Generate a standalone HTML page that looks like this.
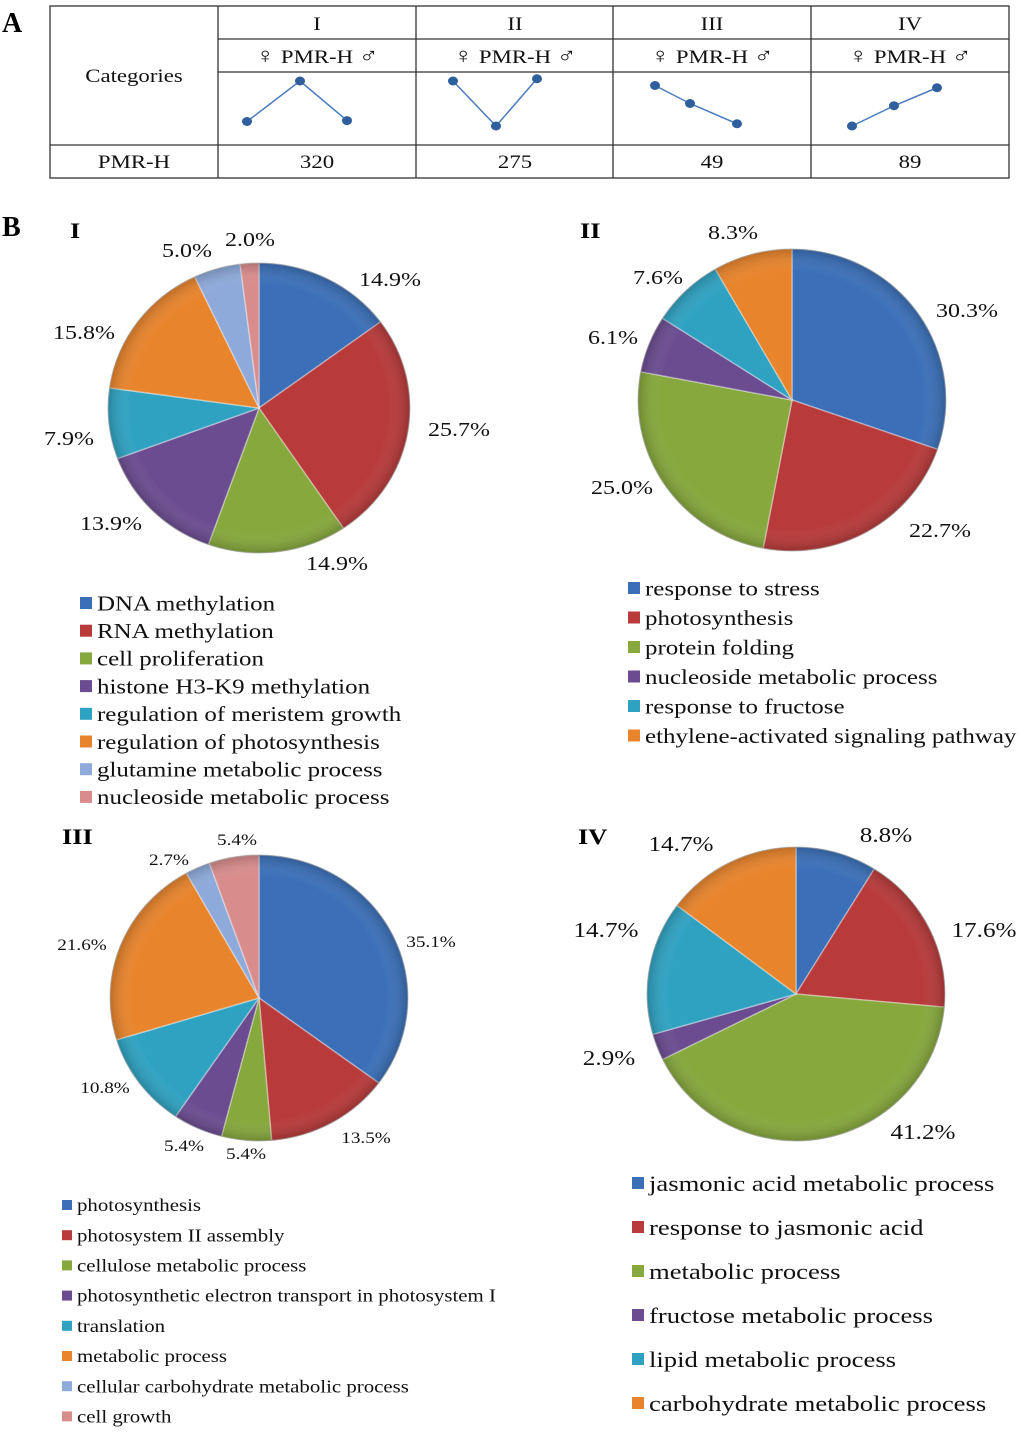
<!DOCTYPE html>
<html><head><meta charset="utf-8"><style>
html,body{margin:0;padding:0;background:#fff;}
svg{display:block;font-family:"Liberation Serif",serif;}
</style></head><body>
<svg id="fig" width="1024" height="1432" viewBox="0 0 1024 1432" xmlns="http://www.w3.org/2000/svg">
<defs>
<radialGradient id="shade" cx="50%" cy="50%" r="50%">
<stop offset="0.85" stop-color="#fff" stop-opacity="0"/>
<stop offset="1" stop-color="#000" stop-opacity="0.18"/>
</radialGradient>
</defs>
<text x="2" y="32" font-size="28" font-weight="bold">A</text>
<text x="2" y="236" font-size="28" font-weight="bold">B</text>
<g id="table" stroke="#333" stroke-width="1.3" fill="none">
<rect x="50" y="6" width="959" height="172"/>
<line x1="218" y1="39" x2="1009" y2="39"/>
<line x1="218" y1="72" x2="1009" y2="72"/>
<line x1="50" y1="145" x2="1009" y2="145"/>
<line x1="218" y1="6" x2="218" y2="178"/>
<line x1="416" y1="6" x2="416" y2="178"/>
<line x1="613" y1="6" x2="613" y2="178"/>
<line x1="811" y1="6" x2="811" y2="178"/>
</g>
<g font-size="19" text-anchor="middle" fill="#111">
<text transform="translate(134,82) scale(1.2,1)">Categories</text>
<text transform="translate(134,168) scale(1.2,1)">PMR-H</text>
<text transform="translate(317,30) scale(1.2,1)">I</text>
<text transform="translate(515,30) scale(1.2,1)">II</text>
<text transform="translate(712,30) scale(1.2,1)">III</text>
<text transform="translate(910,30) scale(1.2,1)">IV</text>
<text transform="translate(317,63) scale(1.2,1)"><tspan font-size="22">♀</tspan> PMR-H <tspan font-size="22">♂</tspan></text>
<text transform="translate(515,63) scale(1.2,1)"><tspan font-size="22">♀</tspan> PMR-H <tspan font-size="22">♂</tspan></text>
<text transform="translate(712,63) scale(1.2,1)"><tspan font-size="22">♀</tspan> PMR-H <tspan font-size="22">♂</tspan></text>
<text transform="translate(910,63) scale(1.2,1)"><tspan font-size="22">♀</tspan> PMR-H <tspan font-size="22">♂</tspan></text>
<text transform="translate(317,168) scale(1.2,1)">320</text>
<text transform="translate(515,168) scale(1.2,1)">275</text>
<text transform="translate(712,168) scale(1.2,1)">49</text>
<text transform="translate(910,168) scale(1.2,1)">89</text>
</g>
<g id="patterns"></g>
<g id="pies"></g>
</svg>
<script>
const NS="http://www.w3.org/2000/svg";
// Pattern data (relative expression levels: female, hybrid, male), 0..1
const patternI=[0.1,1.0,0.12];
const patternII=[1.0,0.0,1.05];
const patternIII=[0.9,0.5,0.05];
const patternIV=[0.0,0.45,0.85];

const pieIValues=[14.9,25.7,14.9,13.9,7.9,15.8,5.0,2.0];
const pieILabels=["14.9%","25.7%","14.9%","13.9%","7.9%","15.8%","5.0%","2.0%"];
const pieICats=["DNA methylation","RNA methylation","cell proliferation","histone H3-K9 methylation","regulation of meristem growth","regulation of photosynthesis","glutamine metabolic process","nucleoside metabolic process"];
const pieIIValues=[30.3,22.7,25.0,6.1,7.6,8.3];
const pieIILabels=["30.3%","22.7%","25.0%","6.1%","7.6%","8.3%"];
const pieIICats=["response to stress","photosynthesis","protein folding","nucleoside metabolic process","response to fructose","ethylene-activated signaling pathway"];
const pieIIIValues=[35.1,13.5,5.4,5.4,10.8,21.6,2.7,5.4];
const pieIIILabels=["35.1%","13.5%","5.4%","5.4%","10.8%","21.6%","2.7%","5.4%"];
const pieIIICats=["photosynthesis","photosystem II assembly","cellulose metabolic process","photosynthetic electron transport in photosystem I","translation","metabolic process","cellular carbohydrate metabolic process","cell growth"];
const pieIVValues=[8.8,17.6,41.2,2.9,14.7,14.7];
const pieIVLabels=["8.8%","17.6%","41.2%","2.9%","14.7%","14.7%"];
const pieIVCats=["jasmonic acid metabolic process","response to jasmonic acid","metabolic process","fructose metabolic process","lipid metabolic process","carbohydrate metabolic process"];

const COLORS=["#3b70b8","#b83a3a","#86a83c","#6b4c91","#2fa2c2","#e8842c","#8eaadb","#d98c8c"];
const SX=1.2;

function el(tag,attrs,parent){const e=document.createElementNS(NS,tag);for(const k in attrs)e.setAttribute(k,attrs[k]);parent.appendChild(e);return e;}

// patterns
const pg=document.getElementById('patterns');
const patterns=[patternI,patternII,patternIII,patternIV];
const colX=[[247,300,347],[453,496,537],[655,690,737],[852,894,937]];
const pTop=81,pBot=126;
const yScaleP=v=>pBot-v*(pBot-pTop);
patterns.forEach((p,i)=>{
  const g=el('g',{},pg);
  
  
  const pts=p.map((v,j)=>[colX[i][j],yScaleP(v)]);
  const l=el('polyline',{points:pts.map(q=>q.join(',')).join(' '),fill:'none',stroke:'#4a7cc0','stroke-width':1.5},g);
  
  
  pts.forEach(q=>{const c=el('ellipse',{cx:q[0],cy:q[1],rx:5,ry:4.5,fill:'#2f5f9c'},g);
    
    });
});

// label layout (text anchor positions, layout only)
const labelPosI=[[390,286],[459,436],[337,570],[111,530],[69,445],[84,339],[187,257],[250,246]];
const labelPosII=[[967,317],[940,537],[622,494],[613,344],[658,284],[733,239]];
const labelPosIII=[[431,947],[366,1143],[246,1159],[184,1151],[105,1093],[82,950],[169,865],[237,845]];
const labelPosIV=[[886,842],[984,937],[923,1139],[609,1065],[606,937],[681,851]];

const pies=[
 {vals:pieIValues,labs:pieILabels,cats:pieICats,pos:labelPosI,cx:259,cy:408,rx:151,ry:145,fs:20,title:"I",tx:70,ty:238,
  lx:80,ly:603,ls:27.7,lfs:20.8,sq:12},
 {vals:pieIIValues,labs:pieIILabels,cats:pieIICats,pos:labelPosII,cx:792,cy:400,rx:154,ry:151,fs:20,title:"II",tx:580,ty:238,
  lx:628,ly:588,ls:29.5,lfs:20.8,sq:12},
 {vals:pieIIIValues,labs:pieIIILabels,cats:pieIIICats,pos:labelPosIII,cx:259,cy:998,rx:149,ry:143,fs:16,title:"III",tx:62,ty:844,
  lx:62,ly:1205,ls:30.2,lfs:17.4,sq:10},
 {vals:pieIVValues,labs:pieIVLabels,cats:pieIVCats,pos:labelPosIV,cx:796,cy:994,rx:149,ry:147,fs:21,title:"IV",tx:578,ty:844,
  lx:632,ly:1183,ls:44,lfs:22.2,sq:12}
];
const root=document.getElementById('pies');
pies.forEach((P,pi)=>{
  const g=el('g',{},root);
  
  
  const t=el('text',{transform:`translate(${P.tx},${P.ty}) scale(${SX},1)`,'font-size':22,'font-weight':'bold'},g);t.textContent=P.title;
  
  
  const total=P.vals.reduce((a,b)=>a+b,0);
  let acc=0;
  const pt=(a,rx,ry)=>[P.cx+rx*Math.sin(a),P.cy-ry*Math.cos(a)];
  P.vals.forEach((v,i)=>{
    const a0=acc/total*2*Math.PI; acc+=v; const a1=acc/total*2*Math.PI;
    const p0=pt(a0,P.rx,P.ry),p1=pt(a1,P.rx,P.ry);
    const large=(a1-a0)>Math.PI?1:0;
    const d=`M${P.cx},${P.cy} L${p0[0]},${p0[1]} A${P.rx},${P.ry} 0 ${large} 1 ${p1[0]},${p1[1]} Z`;
    const s=el('path',{d:d,fill:COLORS[i],stroke:'#fff','stroke-opacity':0.35,'stroke-width':1.5},g);
    
    
    const lp=P.pos[i];
    const lt=el('text',{transform:`translate(${lp[0]},${lp[1]}) scale(${SX},1)`,'font-size':P.fs,'text-anchor':'middle',fill:'#111'},g);
    lt.textContent=P.labs[i];
    
    
  });
  el('ellipse',{cx:P.cx,cy:P.cy,rx:P.rx,ry:P.ry,fill:'url(#shade)',stroke:'#888','stroke-opacity':0.5},g);
  const lg=el('g',{},g);
  
  
  P.cats.forEach((c,i)=>{
    const y=P.ly+i*P.ls;
    const e=el('g',{},lg);
    
    
    el('rect',{x:P.lx,y:y-P.sq/2,width:P.sq,height:P.sq,fill:COLORS[i]},e);
    const tx=el('text',{transform:`translate(${P.lx+P.sq+5},${y+P.lfs*0.35}) scale(${SX},1)`,'font-size':P.lfs,fill:'#111'},e);
    tx.textContent=c;
  });
});
</script>
</body></html>
